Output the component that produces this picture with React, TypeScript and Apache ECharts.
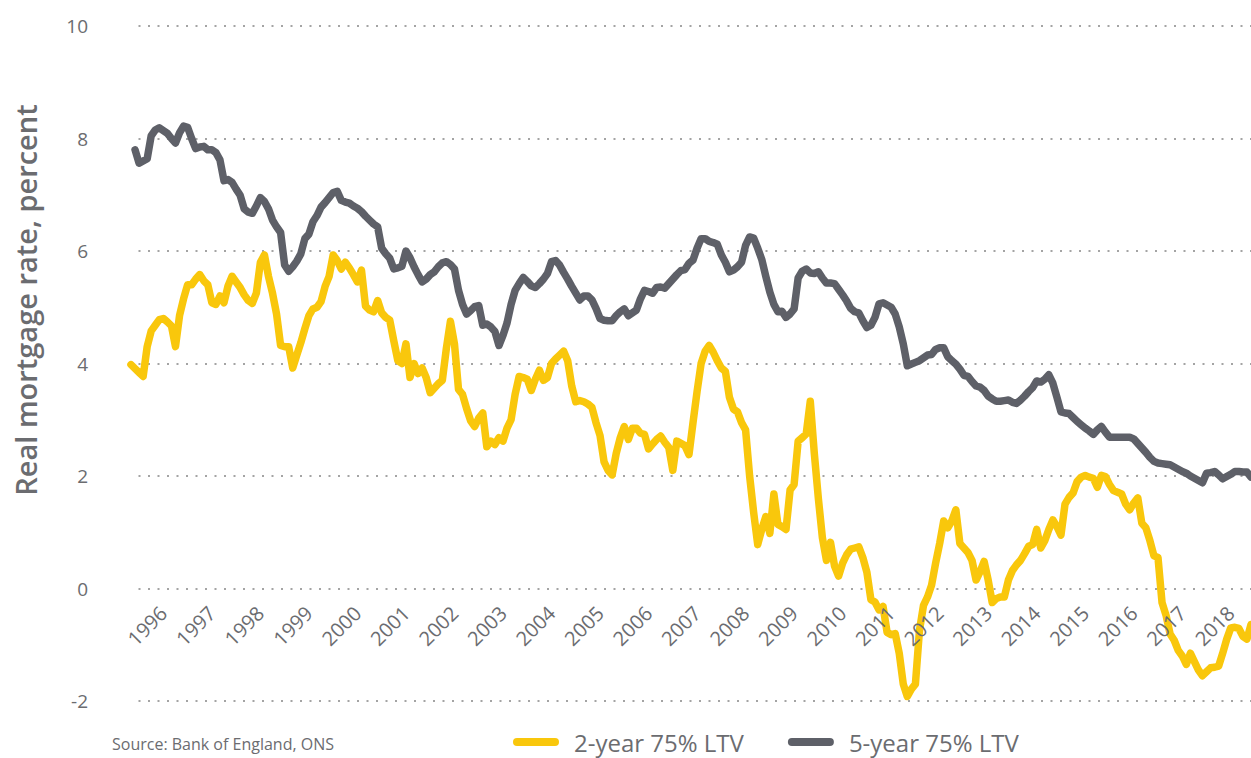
import React, { useEffect, useRef } from "react";
import * as echarts from "echarts";

// Monthly categories, first observation May 1995
const START_YEAR = 1995;
const START_MONTH = 5;
const N_MONTHS = 278;
const months: string[] = [];
for (let k = 0; k < N_MONTHS; k++) {
  const m = START_MONTH - 1 + k;
  months.push(`${START_YEAR + Math.floor(m / 12)}-${String((m % 12) + 1).padStart(2, "0")}`);
}

const yTicks = [-2, 0, 2, 4, 6, 8, 10];
const seriesNames = ["2-year 75% LTV", "5-year 75% LTV"];

const twoYear = [
  3.98, 3.91, 3.84, 3.77, 4.30, 4.58, 4.68, 4.78, 4.80, 4.74,
  4.67, 4.30, 4.85, 5.15, 5.40, 5.40, 5.50, 5.58, 5.47, 5.40,
  5.08, 5.05, 5.20, 5.08, 5.38, 5.55, 5.45, 5.35, 5.22, 5.12,
  5.07, 5.25, 5.80, 5.93, 5.55, 5.25, 4.88, 4.32, 4.30, 4.30,
  3.92, 4.15, 4.37, 4.62, 4.85, 4.97, 5.00, 5.10, 5.37, 5.55,
  5.93, 5.83, 5.68, 5.80, 5.70, 5.58, 5.45, 5.66, 5.02, 4.95,
  4.92, 5.12, 4.90, 4.82, 4.77, 4.40, 4.05, 4.00, 4.35, 3.75,
  4.00, 3.82, 3.92, 3.75, 3.48, 3.56, 3.64, 3.70, 4.27, 4.75,
  4.35, 3.54, 3.45, 3.20, 2.98, 2.88, 3.03, 3.12, 2.52, 2.62,
  2.56, 2.68, 2.62, 2.85, 3.00, 3.45, 3.77, 3.75, 3.72, 3.52,
  3.72, 3.88, 3.70, 3.75, 4.00, 4.08, 4.15, 4.22, 4.05, 3.60,
  3.32, 3.34, 3.32, 3.28, 3.22, 2.95, 2.72, 2.25, 2.10, 2.02,
  2.40, 2.68, 2.88, 2.65, 2.85, 2.85, 2.76, 2.74, 2.48, 2.57,
  2.65, 2.71, 2.60, 2.51, 2.10, 2.62, 2.58, 2.54, 2.38, 2.95,
  3.50, 4.00, 4.22, 4.32, 4.20, 4.05, 3.92, 3.86, 3.40, 3.19,
  3.14, 2.95, 2.82, 2.00, 1.35, 0.78, 1.05, 1.28, 0.98, 1.68,
  1.14, 1.10, 1.05, 1.75, 1.85, 2.62, 2.68, 2.75, 3.33, 2.40,
  1.60, 0.90, 0.50, 0.82, 0.40, 0.22, 0.45, 0.60, 0.70, 0.72,
  0.74, 0.55, 0.29, -0.20, -0.24, -0.38, -0.32, -0.78, -0.82, -0.80,
  -1.15, -1.70, -1.92, -1.79, -1.70, -0.75, -0.30, -0.15, 0.06, 0.45,
  0.80, 1.20, 1.08, 1.20, 1.40, 0.80, 0.72, 0.64, 0.50, 0.15,
  0.30, 0.48, 0.15, -0.25, -0.18, -0.15, -0.15, 0.15, 0.32, 0.42,
  0.50, 0.62, 0.75, 0.78, 1.05, 0.72, 0.85, 1.05, 1.22, 1.10,
  0.95, 1.50, 1.62, 1.70, 1.90, 1.98, 2.01, 1.98, 1.96, 1.80,
  2.01, 1.99, 1.85, 1.74, 1.71, 1.68, 1.50, 1.40, 1.52, 1.61,
  1.16, 1.08, 0.85, 0.58, 0.55, -0.25, -0.48, -0.81, -0.92, -1.10,
  -1.20, -1.35, -1.15, -1.30, -1.45, -1.55, -1.48, -1.41, -1.40, -1.38,
  -1.15, -0.90, -0.70, -0.69, -0.71, -0.85, -0.90, -0.64,
];

const fiveYear = [
  null, 7.80, 7.56, 7.60, 7.64, 8.05, 8.15, 8.19, 8.14, 8.09,
  8.00, 7.92, 8.10, 8.22, 8.20, 8.00, 7.82, 7.85, 7.86, 7.80,
  7.80, 7.75, 7.62, 7.25, 7.27, 7.22, 7.10, 6.99, 6.75, 6.69,
  6.67, 6.80, 6.95, 6.88, 6.75, 6.55, 6.43, 6.33, 5.75, 5.64,
  5.72, 5.82, 5.95, 6.22, 6.30, 6.52, 6.63, 6.78, 6.86, 6.95,
  7.04, 7.06, 6.90, 6.87, 6.85, 6.80, 6.76, 6.70, 6.62, 6.55,
  6.48, 6.43, 6.05, 5.95, 5.87, 5.68, 5.70, 5.73, 6.00, 5.88,
  5.72, 5.58, 5.45, 5.50, 5.58, 5.63, 5.72, 5.79, 5.81, 5.76,
  5.68, 5.30, 5.05, 4.88, 4.94, 5.01, 5.03, 4.68, 4.70, 4.65,
  4.57, 4.32, 4.50, 4.72, 5.05, 5.30, 5.42, 5.53, 5.46, 5.38,
  5.35, 5.42, 5.50, 5.60, 5.81, 5.83, 5.75, 5.62, 5.50, 5.37,
  5.25, 5.13, 5.20, 5.20, 5.13, 4.98, 4.80, 4.77, 4.76, 4.76,
  4.85, 4.92, 4.97, 4.85, 4.90, 4.95, 5.15, 5.30, 5.28, 5.25,
  5.35, 5.36, 5.34, 5.42, 5.50, 5.58, 5.65, 5.67, 5.78, 5.84,
  6.05, 6.22, 6.22, 6.17, 6.15, 6.12, 5.93, 5.80, 5.63, 5.66,
  5.72, 5.80, 6.10, 6.25, 6.23, 6.05, 5.85, 5.55, 5.27, 5.05,
  4.92, 4.93, 4.82, 4.88, 4.97, 5.52, 5.64, 5.68, 5.61, 5.60,
  5.63, 5.52, 5.43, 5.43, 5.42, 5.32, 5.22, 5.11, 4.98, 4.92,
  4.90, 4.76, 4.64, 4.68, 4.82, 5.06, 5.08, 5.04, 5.00, 4.88,
  4.65, 4.35, 3.96, 3.99, 4.02, 4.05, 4.10, 4.15, 4.16, 4.25,
  4.28, 4.28, 4.12, 4.05, 3.99, 3.90, 3.79, 3.77, 3.68, 3.60,
  3.58, 3.52, 3.42, 3.37, 3.33, 3.33, 3.34, 3.35, 3.31, 3.29,
  3.35, 3.42, 3.50, 3.57, 3.69, 3.67, 3.72, 3.80, 3.65, 3.40,
  3.14, 3.12, 3.11, 3.04, 2.97, 2.91, 2.85, 2.80, 2.74, 2.82,
  2.88, 2.78, 2.69, 2.69, 2.69, 2.69, 2.69, 2.69, 2.66, 2.58,
  2.50, 2.42, 2.33, 2.26, 2.23, 2.22, 2.21, 2.20, 2.16, 2.12,
  2.08, 2.05, 2.00, 1.96, 1.92, 1.88, 2.05, 2.06, 2.08, 2.02,
  1.95, 1.99, 2.03, 2.08, 2.08, 2.07, 2.07, 1.98,
];

const YELLOW = "#F9C70C";
const GREY = "#5E6068";
const TEXT = "#6B6C70";
const FONT = "'Open Sans', 'Noto Sans', sans-serif";

const GRID_TOP = 26;
const GRID_BOTTOM = 57;
const CHART_H = 758;

export default function App() {
  const ref = useRef<HTMLDivElement>(null);

  useEffect(() => {
    if (!ref.current) return;
    const chart = echarts.init(ref.current, null, { renderer: "svg" });
    // shift the x axis (labels) from the grid bottom up to the y = 0 line
    const plotH = CHART_H - GRID_TOP - GRID_BOTTOM;
    const yMin = yTicks[0];
    const yMax = yTicks[yTicks.length - 1];
    const zeroShift = (plotH * (0 - yMin)) / (yMax - yMin);
    chart.setOption({
      animation: false,
      backgroundColor: "#ffffff",
      grid: { left: 131, right: 0, top: GRID_TOP, bottom: GRID_BOTTOM, containLabel: false },
      xAxis: {
        type: "category",
        data: months,
        boundaryGap: false,
        position: "bottom",
        offset: -zeroShift,
        z: 5,
        axisLine: { show: false, onZero: false },
        axisTick: { show: false },
        splitLine: { show: false },
        axisLabel: {
          interval: (_i: number, v: string) => v.endsWith("-01"),
          formatter: (v: string) => v.slice(0, 4),
          rotate: 45,
          margin: 21,
          fontSize: 20,
          color: TEXT,
          fontFamily: FONT,
        },
      },
      yAxis: {
        type: "value",
        min: yMin,
        max: yMax,
        interval: 2,
        axisLine: { show: false },
        axisTick: { show: false },
        axisLabel: { margin: 43, fontSize: 19, color: TEXT, fontFamily: FONT },
        splitLine: {
          show: true,
          lineStyle: { type: [2, 7.5], dashOffset: 2, width: 2, color: "#a4a4a4" },
        },
      },
      legend: {
        left: 508,
        top: 725,
        itemWidth: 46,
        itemHeight: 8,
        itemGap: 44,
        icon: "path://M4,0H42A4,4,0,0,1,42,8H4A4,4,0,0,1,4,0Z",
        textStyle: { fontSize: 24, color: TEXT, fontFamily: FONT, padding: [0, 0, 0, 10] },
        data: seriesNames,
      },
      series: [
        {
          name: seriesNames[0],
          type: "line",
          data: twoYear,
          symbol: "none",
          itemStyle: { color: YELLOW },
          lineStyle: { width: 7.5, color: YELLOW, cap: "round", join: "round" },
        },
        {
          name: seriesNames[1],
          type: "line",
          data: fiveYear,
          symbol: "none",
          itemStyle: { color: GREY },
          lineStyle: { width: 7.5, color: GREY, cap: "round", join: "round" },
        },
      ],
      graphic: [
        {
          type: "text",
          x: 25,
          y: 300,
          rotation: Math.PI / 2,
          style: {
            text: "Real mortgage rate, percent",
            fontSize: 29,
            fontWeight: 600,
            fontFamily: FONT,
            fill: TEXT,
            align: "center",
            verticalAlign: "middle",
            textAlign: "center",
            textVerticalAlign: "middle",
          },
        },
        {
          type: "text",
          x: 112,
          y: 744,
          style: {
            text: "Source: Bank of England, ONS",
            fontSize: 16,
            fontFamily: FONT,
            fill: TEXT,
            align: "left",
            verticalAlign: "middle",
            textAlign: "left",
            textVerticalAlign: "middle",
          },
        },
      ],
    });
    return () => chart.dispose();
  }, []);

  return (
    <div
      ref={ref}
      style={{ position: "absolute", left: 0, top: 0, width: 1251, height: 758, background: "#fff" }}
    />
  );
}
